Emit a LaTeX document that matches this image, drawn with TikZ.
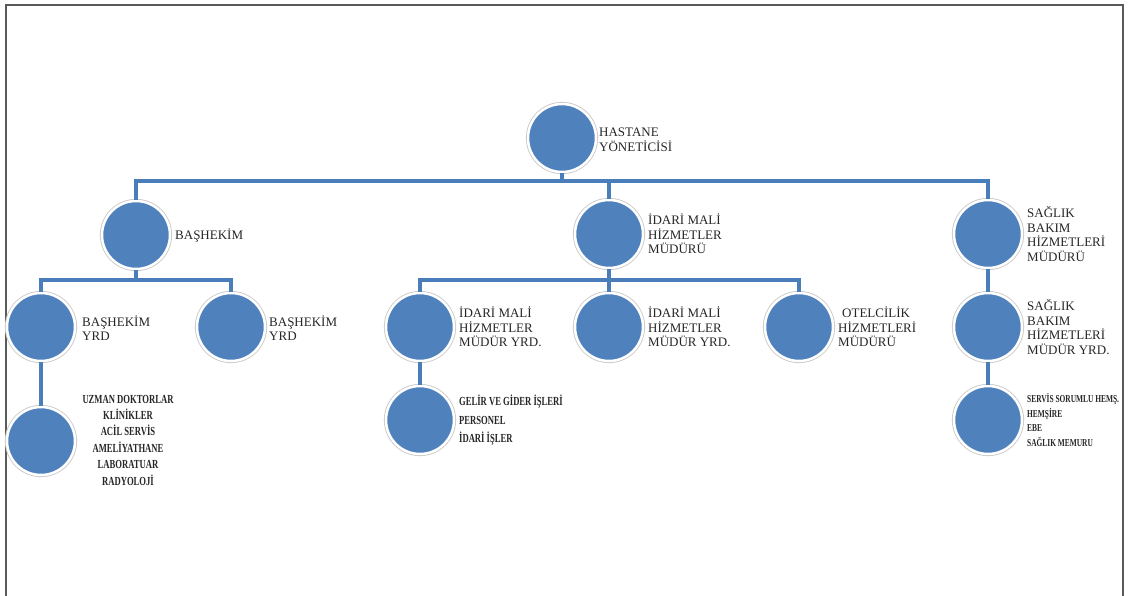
\documentclass[tikz,border=0pt]{standalone}
\usepackage{fontspec}
\setmainfont{Liberation Serif}
\newfontfamily\condfont{Liberation Serif}[FakeStretch=0.7]
\definecolor{orgblue}{HTML}{4F81BD}
\definecolor{linkblue}{HTML}{4A7EBB}
\definecolor{ringgray}{HTML}{C8C8C8}
\definecolor{txt}{HTML}{262626}
\tikzset{
  circ/.style={circle, minimum size=68pt, inner sep=0pt, fill=orgblue, draw=white, line width=2.5pt,
    preaction={draw=ringgray, line width=4.2pt}},
  conn/.style={draw=linkblue, line width=3.5pt, line join=miter},
  lab/.style={inner sep=0pt, align=left, text=txt, font=\fontsize{13}{14.5}\selectfont},
  smallA/.style={inner sep=0pt, align=center, text=txt, font=\condfont\bfseries\fontsize{12.3}{16.4}\selectfont},
  smallB/.style={inner sep=0pt, align=left, text=txt, font=\condfont\bfseries\fontsize{12.3}{18.5}\selectfont},
  smallC/.style={inner sep=0pt, align=left, text=txt, font=\condfont\bfseries\fontsize{10.6}{14.6}\selectfont},
}
\begin{document}
\begin{tikzpicture}[x=1pt,y=-1pt]
\useasboundingbox (0,0) rectangle (1128,595);
% frame
\draw[black!65, line width=1.6pt] (6,596) -- (6,5) -- (1123,5) -- (1123,596);
% circles
\node[circ] (h)   at (562,138) {};
\node[circ] (bas) at (136,235) {};
\node[circ] (ida) at (609,234) {};
\node[circ] (sag) at (988,234) {};
\node[circ] (y1)  at (41,327) {};
\node[circ] (y2)  at (231,327) {};
\node[circ] (m1)  at (420,327) {};
\node[circ] (m2)  at (609,327) {};
\node[circ] (ot)  at (799,327) {};
\node[circ] (sy)  at (988,327) {};
\node[circ] (uz)  at (41,441) {};
\node[circ] (ge)  at (420,420) {};
\node[circ] (se)  at (988,420) {};
% labels
\node[lab, anchor=west] (ht)  at (599,140) {HASTANE\\YÖNETİCİSİ};
\node[lab, anchor=west] (bast) at (175,236) {BAŞHEKİM};
\node[lab, anchor=west] (idat) at (648,234) {İDARİ MALİ\\HİZMETLER\\MÜDÜRÜ};
\node[lab, anchor=west] (sagt) at (1027,234) {SAĞLIK\\BAKIM\\HİZMETLERİ\\MÜDÜRÜ};
\node[lab, anchor=west] (y1t) at (82,328) {BAŞHEKİM\\YRD};
\node[lab, anchor=west] (y2t) at (269,328) {BAŞHEKİM\\YRD};
\node[lab, anchor=west] (m1t) at (459,327) {İDARİ MALİ\\HİZMETLER\\MÜDÜR YRD.};
\node[lab, anchor=west] (m2t) at (648,327) {İDARİ MALİ\\HİZMETLER\\MÜDÜR YRD.};
\node[lab, anchor=west] (ott) at (838,327) {\hspace*{4pt}OTELCİLİK\\HİZMETLERİ\\MÜDÜRÜ};
\node[lab, anchor=west] (syt) at (1027,327) {SAĞLIK\\BAKIM\\HİZMETLERİ\\MÜDÜR YRD.};
\node[smallA] (uzt) at (128,440) {UZMAN DOKTORLAR\\KLİNİKLER\\ACİL SERVİS\\AMELİYATHANE\\LABORATUAR\\RADYOLOJİ};
\node[smallB, anchor=west] (get) at (459,420) {GELİR VE GİDER İŞLERİ\\PERSONEL\\İDARİ İŞLER};
\node[smallC, anchor=west] (set) at (1027,420) {SERVİS SORUMLU HEMŞ.\\HEMŞİRE\\EBE\\SAĞLIK MEMURU};
% connectors
\coordinate (bus1) at (0,181);
\coordinate (bus2) at (0,280);
\draw[conn] (h.south) -- (h.south |- bus1);
\draw[conn] (bas.north) |- (sag.north |- bus1) -- (sag.north);
\draw[conn] (ida.north) -- (ida.north |- bus1);
\draw[conn] (bas.south) -- (bas.south |- bus2);
\draw[conn] (y1.north) |- (y2.north |- bus2) -- (y2.north);
\draw[conn] (ida.south) -- (ida.south |- bus2);
\draw[conn] (m1.north) |- (ot.north |- bus2) -- (ot.north);
\draw[conn] (m2.north) -- (m2.north |- bus2);
\draw[conn] (sag.south) -- (sy.north);
\draw[conn] (y1.south) -- (uz.north);
\draw[conn] (m1.south) -- (ge.north);
\draw[conn] (sy.south) -- (se.north);
\end{tikzpicture}
\end{document}
